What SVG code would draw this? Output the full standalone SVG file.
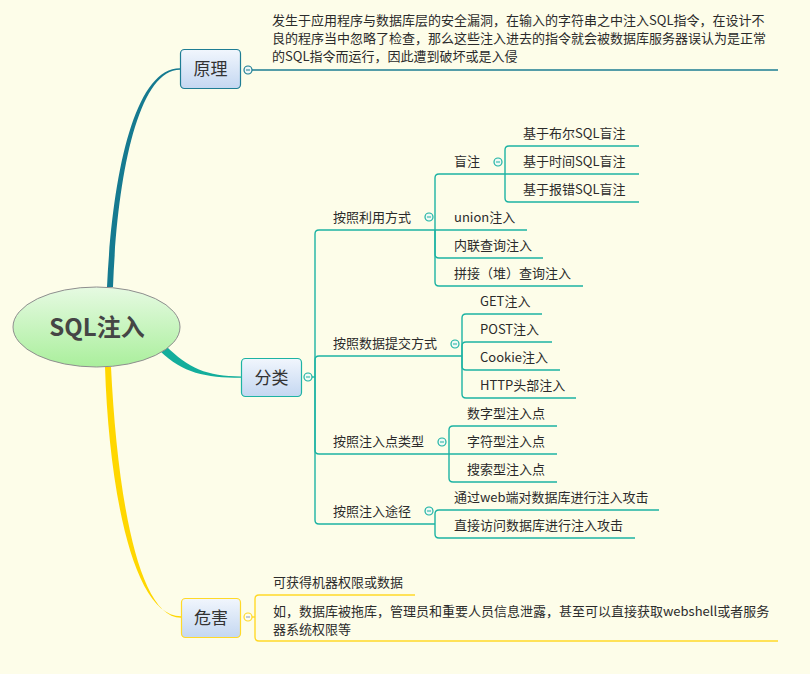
<svg xmlns="http://www.w3.org/2000/svg" width="810" height="674" viewBox="0 0 810 674">
<defs>
<linearGradient id="gNode" x1="0" y1="0" x2="0" y2="1">
<stop offset="0" stop-color="#F1F6FD"/>
<stop offset="1" stop-color="#C4D7F1"/>
</linearGradient>
<linearGradient id="gRoot" x1="0" y1="0" x2="0" y2="1">
<stop offset="0" stop-color="#E6FAE2"/>
<stop offset="1" stop-color="#AAEF9C"/>
</linearGradient>
<style>
text{font-family:"Noto Sans CJK SC","Microsoft YaHei","Liberation Sans",sans-serif;fill:#2b2b2b}
.t{font-size:13px}
.n{font-size:17px;text-anchor:middle;fill:#333}
.root{font-size:24px;font-weight:bold;text-anchor:middle;fill:#454545}
.lb{fill:none;stroke:#1B7D92;stroke-width:1.4}
.lg{fill:none;stroke:#1DB3A3;stroke-width:1.4}
.ly{fill:none;stroke:#FFD928;stroke-width:1.4}
.cb{fill:#EEF6F6;stroke:#1B7D92;stroke-width:1.2}
.cg{fill:#EEF9F4;stroke:#1DB3A3;stroke-width:1.2}
.cy{fill:#FFFDF0;stroke:#FFD928;stroke-width:1.2}
</style>
</defs>
<rect width="810" height="674" fill="#FDFDE9"/>

<g id="connectors">
<!-- main branches -->
<path d="M107,287 C112,180 133,68.2 180,68.2 L180,69.8 C137,69.8 117,180 113,287 Z" fill="#157A90"/>
<path d="M160,351 C183,373 205,377.8 241,377.8 L241,376.4 C207,376.4 188,368 166,346 Z" fill="#13AE9C"/>
<path d="M105,367 C109,490 133,616.2 181,616.2 L181,617.8 C137,617.8 117,490 111,367 Z" fill="#FFD700"/>

<!-- 原理 -->
<path class="lb" d="M252,70 H778"/>

<!-- 分类 spine -->
<path class="lg" d="M312,377 H315"/>
<path class="lg" d="M315,377 V234 Q315,230 319,230 H435"/>
<path class="lg" d="M315,377 V360 Q315,356 319,356 H462"/>
<path class="lg" d="M315,377 V450 Q315,454 319,454 H449"/>
<path class="lg" d="M315,377 V520 Q315,524 319,524 H435"/>

<!-- 按照利用方式 children -->
<path class="lg" d="M435,230 V178 Q435,174 439,174 H505"/>
<path class="lg" d="M435,230 H527"/>
<path class="lg" d="M435,230 V254 Q435,258 439,258 H543"/>
<path class="lg" d="M435,230 V282 Q435,286 439,286 H583"/>

<!-- 盲注 children -->
<path class="lg" d="M505,174 V150 Q505,146 509,146 H639"/>
<path class="lg" d="M505,174 H639"/>
<path class="lg" d="M505,174 V198 Q505,202 509,202 H639"/>

<!-- 按照数据提交方式 children -->
<path class="lg" d="M462,356 V318 Q462,314 466,314 H542"/>
<path class="lg" d="M462,356 V346 Q462,342 466,342 H552"/>
<path class="lg" d="M462,356 V366 Q462,370 466,370 H560"/>
<path class="lg" d="M462,356 V394 Q462,398 466,398 H576"/>

<!-- 按照注入点类型 children -->
<path class="lg" d="M449,454 V430 Q449,426 453,426 H557"/>
<path class="lg" d="M449,454 H557"/>
<path class="lg" d="M449,454 V478 Q449,482 453,482 H557"/>

<!-- 按照注入途径 children -->
<path class="lg" d="M435,524 V514 Q435,510 439,510 H659"/>
<path class="lg" d="M435,524 V534 Q435,538 439,538 H635"/>

<!-- 危害 children -->
<path class="ly" d="M252,617 H255"/>
<path class="ly" d="M255,617 V599 Q255,595 259,595 H415"/>
<path class="ly" d="M255,617 V637 Q255,641 259,641 H778"/>
</g>

<g id="root">
<ellipse cx="96.5" cy="327" rx="83.5" ry="40" fill="url(#gRoot)" stroke="#8E8E8E" stroke-width="1"/>
<text class="root" x="97" y="336">SQL注入</text>
</g>

<g id="node-yuanli">
<rect x="180.5" y="49.5" width="60" height="39" rx="4" fill="url(#gNode)" stroke="#1E7D94" stroke-width="1.2"/>
<text class="n" x="210.5" y="75">原理</text>
<circle class="cb" cx="248" cy="70" r="4"/>
<path d="M246,70 H250" stroke="#1B7D92" stroke-width="1"/>
</g>

<g id="node-yuanli-desc">
<text class="t" x="272" y="25">发生于应用程序与数据库层的安全漏洞，在输入的字符串之中注入SQL指令，在设计不</text>
<text class="t" x="272" y="43">良的程序当中忽略了检查，那么这些注入进去的指令就会被数据库服务器误认为是正常</text>
<text class="t" x="272" y="61">的SQL指令而运行，因此遭到破坏或是入侵</text>
</g>

<g id="node-fenlei">
<rect x="241.5" y="358.5" width="60" height="38" rx="4" fill="url(#gNode)" stroke="#1DB3A3" stroke-width="1.2"/>
<text class="n" x="271.5" y="384">分类</text>
<circle class="cg" cx="308" cy="377" r="4"/>
<path d="M306,377 H310" stroke="#1DB3A3" stroke-width="1"/>
</g>

<g id="node-liyong">
<text class="t" x="333" y="222">按照利用方式</text>
<circle class="cg" cx="429" cy="217" r="4"/>
<path d="M427,217 H431" stroke="#1DB3A3" stroke-width="1"/>
</g>
<g id="node-mangzhu">
<text class="t" x="454" y="166">盲注</text>
<circle class="cg" cx="498" cy="162" r="4"/>
<path d="M496,162 H500" stroke="#1DB3A3" stroke-width="1"/>
</g>
<g id="node-bool"><text class="t" x="523" y="138">基于布尔SQL盲注</text></g>
<g id="node-time"><text class="t" x="523" y="166">基于时间SQL盲注</text></g>
<g id="node-error"><text class="t" x="523" y="194">基于报错SQL盲注</text></g>
<g id="node-union"><text class="t" x="454" y="222">union注入</text></g>
<g id="node-inline"><text class="t" x="454" y="250">内联查询注入</text></g>
<g id="node-stack"><text class="t" x="454" y="278">拼接（堆）查询注入</text></g>

<g id="node-tijiao">
<text class="t" x="333" y="348">按照数据提交方式</text>
<circle class="cg" cx="455" cy="344" r="4"/>
<path d="M453,344 H457" stroke="#1DB3A3" stroke-width="1"/>
</g>
<g id="node-get"><text class="t" x="480" y="306">GET注入</text></g>
<g id="node-post"><text class="t" x="480" y="334">POST注入</text></g>
<g id="node-cookie"><text class="t" x="480" y="362">Cookie注入</text></g>
<g id="node-http"><text class="t" x="480" y="390">HTTP头部注入</text></g>

<g id="node-dianleixing">
<text class="t" x="333" y="446">按照注入点类型</text>
<circle class="cg" cx="442" cy="442" r="4"/>
<path d="M440,442 H444" stroke="#1DB3A3" stroke-width="1"/>
</g>
<g id="node-num"><text class="t" x="467" y="418">数字型注入点</text></g>
<g id="node-char"><text class="t" x="467" y="446">字符型注入点</text></g>
<g id="node-search"><text class="t" x="467" y="474">搜索型注入点</text></g>

<g id="node-tujing">
<text class="t" x="333" y="516">按照注入途径</text>
<circle class="cg" cx="429" cy="511" r="4"/>
<path d="M427,511 H431" stroke="#1DB3A3" stroke-width="1"/>
</g>
<g id="node-web"><text class="t" x="454" y="502">通过web端对数据库进行注入攻击</text></g>
<g id="node-direct"><text class="t" x="454" y="530">直接访问数据库进行注入攻击</text></g>

<g id="node-weihai">
<rect x="181.5" y="598.5" width="59" height="39" rx="4" fill="url(#gNode)" stroke="#FFD928" stroke-width="1.2"/>
<text class="n" x="211" y="624">危害</text>
<circle class="cy" cx="248" cy="617" r="4"/>
<path d="M246,617 H250" stroke="#8899BB" stroke-width="1"/>
</g>
<g id="node-weihai-1"><text class="t" x="273" y="587">可获得机器权限或数据</text></g>
<g id="node-weihai-2">
<text class="t" x="273" y="616">如，数据库被拖库，管理员和重要人员信息泄露，甚至可以直接获取webshell或者服务</text>
<text class="t" x="273" y="634">器系统权限等</text>
</g>
</svg>
